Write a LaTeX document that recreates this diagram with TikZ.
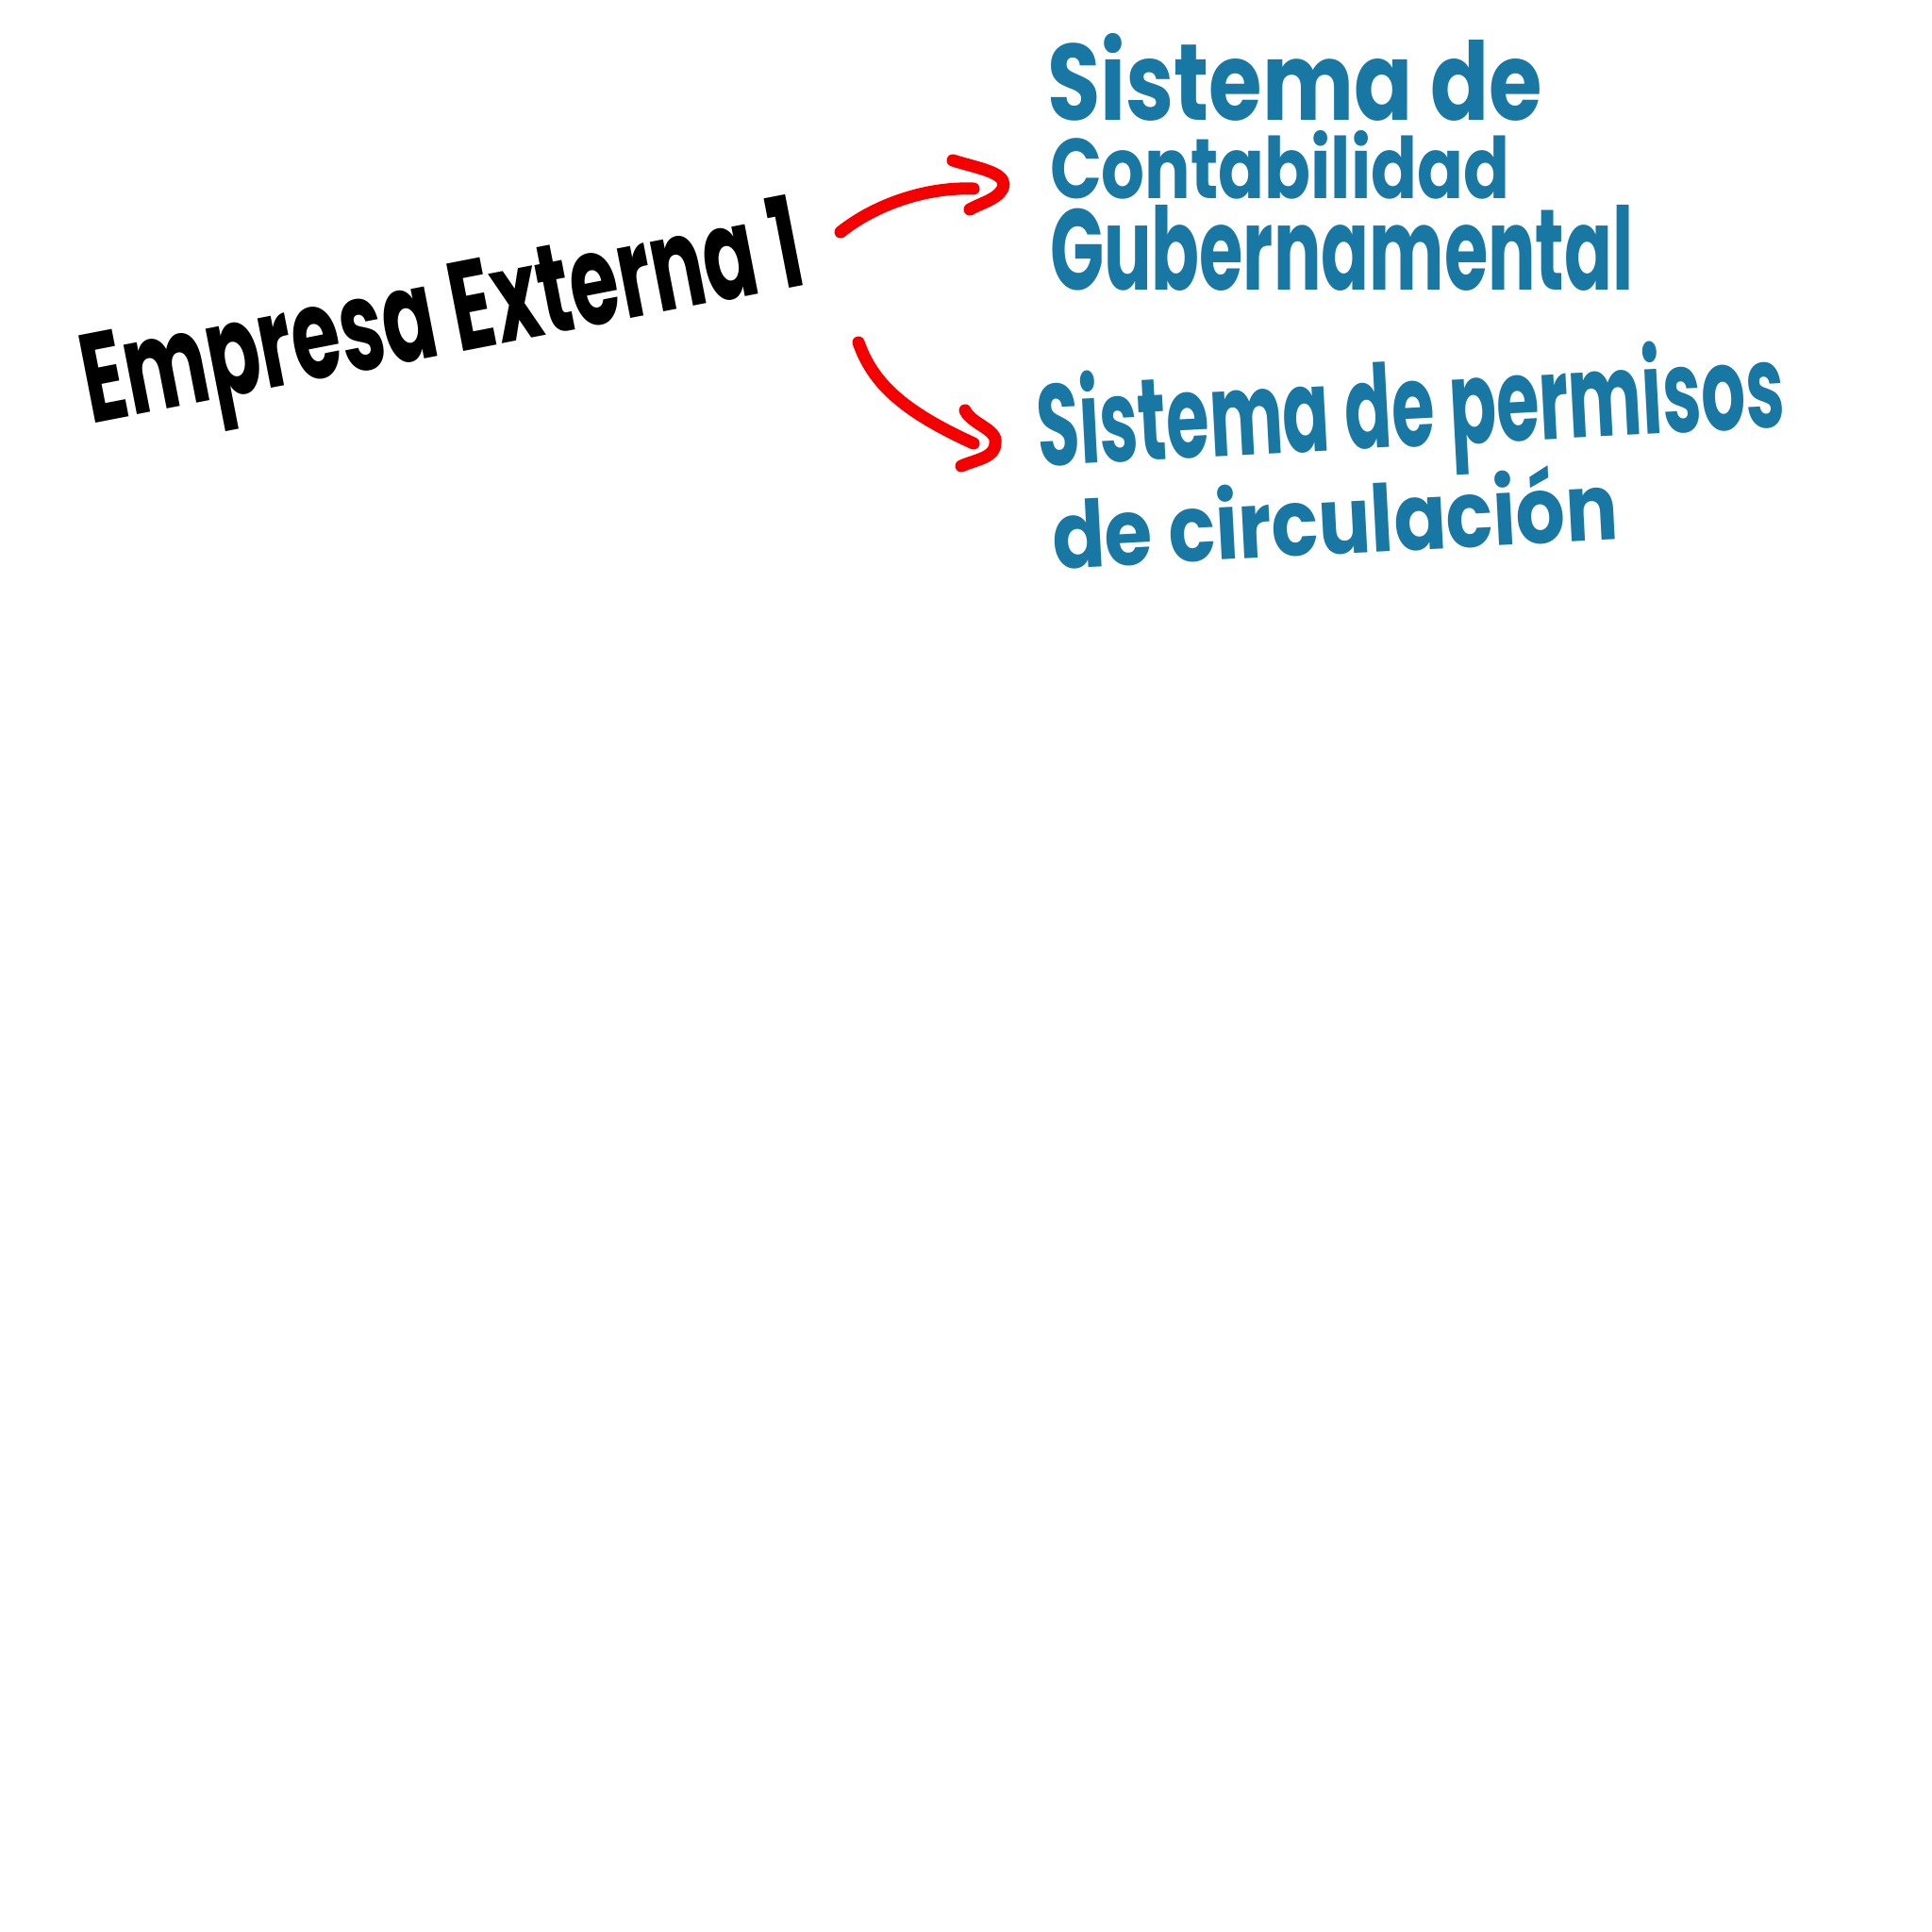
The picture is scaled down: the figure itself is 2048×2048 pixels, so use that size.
\documentclass[tikz,border=0pt]{standalone}
\usepackage{fontspec}
\setmainfont{Poppins}
\definecolor{inkblue}{RGB}{25,119,163}
\definecolor{inkred}{RGB}{245,0,0}
\begin{document}
\begin{tikzpicture}[x=0.01cm,y=-0.01cm,
  handtext/.style={inner sep=0pt,outer sep=0pt,anchor=base west,font=\bfseries},
  bluetext/.style={handtext,text=inkblue},
  redstroke/.style={draw=inkred,line width=0.13cm,line cap=round,line join=round}]
\fill[white] (0,0) rectangle (2048,2048);
\useasboundingbox (0,0) rectangle (2048,2048);
% source
\node[handtext,text=black,rotate=11] (emp) at (96,449) {\resizebox{7.75cm}{0.98cm}{Empresa Externa 1}};
% target 1
\node[bluetext] (s1a) at (1110,127) {\resizebox{5.25cm}{0.92cm}{Sistema de}};
\node[bluetext] (s1b) at (1113,210) {\resizebox{4.87cm}{0.72cm}{Contabilidad}};
\node[bluetext] (s1c) at (1113,307) {\resizebox{6.18cm}{0.9cm}{Gubernamental}};
% target 2
\node[bluetext,rotate=3] (s2a) at (1101,494) {\resizebox{7.93cm}{0.98cm}{Sistema de permisos}};
\node[bluetext,rotate=3] (s2b) at (1117,603) {\resizebox{6.0cm}{0.82cm}{de circulación}};
% arrows
\coordinate (a1s) at (891,246);
\coordinate (a1e) at (1032,200);
\coordinate (h1a) at (1010,170);
\coordinate (h1t) at (1064,196);
\coordinate (h1b) at (1028,222);
\draw[redstroke] (a1s) .. controls (930,215) and (985,198) .. (a1e);
\draw[redstroke] (h1a) .. controls (1035,178) and (1064,182) .. (h1t) .. controls (1062,210) and (1040,215) .. (h1b);
\coordinate (a2s) at (910,363);
\coordinate (a2e) at (1032,470);
\coordinate (h2a) at (1023,435);
\coordinate (h2t) at (1055,470);
\coordinate (h2b) at (1019,494);
\draw[redstroke] (a2s) .. controls (925,405) and (955,435) .. (a2e);
\draw[redstroke] (h2a) .. controls (1030,450) and (1058,455) .. (h2t) .. controls (1055,485) and (1035,487) .. (h2b);
\end{tikzpicture}
\end{document}
